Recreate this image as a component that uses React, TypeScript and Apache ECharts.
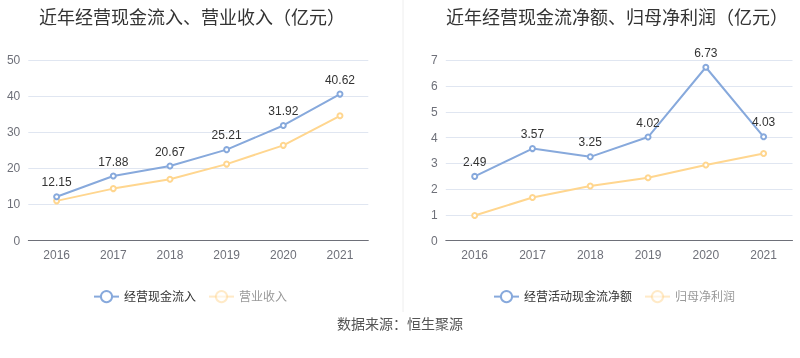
import React, { useEffect, useRef } from "react";
import * as echarts from "echarts";

const years = ["2016", "2017", "2018", "2019", "2020", "2021"];
const cashInflow = [12.15, 17.88, 20.67, 25.21, 31.92, 40.62];
const revenue = [11.0, 14.4, 17.0, 21.2, 26.4, 34.6];
const netCashFlow = [2.49, 3.57, 3.25, 4.02, 6.73, 4.03];
const netProfit = [0.97, 1.67, 2.12, 2.44, 2.93, 3.38];

const leftTitle = "近年经营现金流入、营业收入（亿元）";
const rightTitle = "近年经营现金流净额、归母净利润（亿元）";
const source = "数据来源：恒生聚源";

const BLUE = "#87A9DC";
const ORANGE = "#FFD68F";
const FONT = "'Liberation Sans', 'Noto Sans CJK SC', sans-serif";

export default function App() {
  const ref = useRef<HTMLDivElement>(null);
  useEffect(() => {
    const chart = echarts.init(ref.current!, undefined, { renderer: "svg" });
    const axisLabel = { color: "#6E7079", fontSize: 12, fontFamily: FONT };
    const xAxisBase = {
      type: "category",
      data: years,
      axisLine: { lineStyle: { color: "#6E7079" } },
      axisTick: { alignWithLabel: true, length: 4, lineStyle: { color: "#6E7079" } },
      axisLabel: { ...axisLabel, margin: 8 },
    };
    const yAxisBase = {
      type: "value",
      axisLine: { show: false },
      axisTick: { show: false },
      splitLine: { lineStyle: { color: "#E0E6F1" } },
      axisLabel: { ...axisLabel, margin: 8 },
    };
    const label = { show: true, position: "top", color: "#333", fontSize: 12, fontFamily: FONT, distance: 5 };
    const lineSeries = (name: string, data: number[], color: string, xi: number, withLabel: boolean) => ({
      name,
      type: "line",
      xAxisIndex: xi,
      yAxisIndex: xi,
      data,
      symbol: "emptyCircle",
      symbolSize: 5,
      lineStyle: { color, width: 2 },
      itemStyle: { color, borderWidth: 1.5 },
      label: withLabel ? label : { show: false },
      z: withLabel ? 3 : 2,
    });
    const faded = { itemStyle: { opacity: 0.5 }, lineStyle: { opacity: 0.5 }, textStyle: { color: "#999" } };
    chart.setOption({
      animation: false,
      textStyle: { fontFamily: FONT },
      title: [
        { text: leftTitle, left: 34, top: 4, textStyle: { fontSize: 18, fontWeight: "normal", color: "#333", fontFamily: FONT } },
        { text: rightTitle, left: 441, top: 4, textStyle: { fontSize: 18, fontWeight: "normal", color: "#333", fontFamily: FONT } },
      ],
      legend: [
        {
          left: 93,
          top: 290,
          padding: 0,
          itemWidth: 25,
          itemHeight: 14,
          itemGap: 12,
          textStyle: { fontSize: 12, color: "#333", fontFamily: FONT },
          data: [{ name: "经营现金流入" }, { name: "营业收入", ...faded }],
        },
        {
          left: 493,
          top: 290,
          padding: 0,
          itemWidth: 25,
          itemHeight: 14,
          itemGap: 12,
          textStyle: { fontSize: 12, color: "#333", fontFamily: FONT },
          data: [{ name: "经营活动现金流净额" }, { name: "归母净利润", ...faded }],
        },
      ],
      grid: [
        { left: 28.3, right: 431.7, top: 60.3, bottom: 117.5 },
        { left: 445.8, right: 7.5, top: 60.3, bottom: 117.5 },
      ],
      xAxis: [
        { ...xAxisBase, gridIndex: 0 },
        { ...xAxisBase, gridIndex: 1 },
      ],
      yAxis: [
        { ...yAxisBase, gridIndex: 0, min: 0, max: 50, interval: 10 },
        { ...yAxisBase, gridIndex: 1, min: 0, max: 7, interval: 1 },
      ],
      series: [
        lineSeries("经营现金流入", cashInflow, BLUE, 0, true),
        lineSeries("营业收入", revenue, ORANGE, 0, false),
        lineSeries("经营活动现金流净额", netCashFlow, BLUE, 1, true),
        lineSeries("归母净利润", netProfit, ORANGE, 1, false),
      ],
      graphic: [
        { type: "line", shape: { x1: 403, y1: 0, x2: 403, y2: 312 }, style: { stroke: "#EEEEEE", lineWidth: 1 } },
        {
          type: "text",
          x: 400,
          y: 324,
          style: { text: source, fontSize: 14, fill: "#555", fontFamily: FONT, textAlign: "center", textVerticalAlign: "middle" },
        },
      ],
    });
    return () => chart.dispose();
  }, []);
  return <div ref={ref} style={{ position: "fixed", left: 0, top: 0, width: 800, height: 358 }} />;
}
